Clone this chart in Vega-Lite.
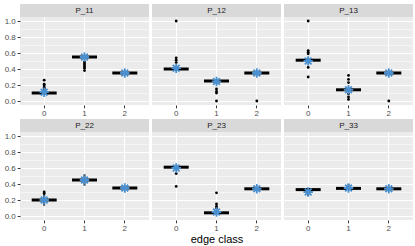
{
  "$schema": "https://vega.github.io/schema/vega-lite/v6.json",
  "padding": {"left": 4, "top": 4, "right": 2, "bottom": 0},
  "datasets": {
    "panels": [{"panel": "P_11"}, {"panel": "P_12"}, {"panel": "P_13"}, {"panel": "P_22"}, {"panel": "P_23"}, {"panel": "P_33"}],
    "box": [
      {"panel": "P_11", "cls": "0", "lo": 0.08, "med": 0.10, "hi": 0.12, "mean": 0.11},
      {"panel": "P_11", "cls": "1", "lo": 0.53, "med": 0.55, "hi": 0.57, "mean": 0.55},
      {"panel": "P_11", "cls": "2", "lo": 0.34, "med": 0.35, "hi": 0.36, "mean": 0.35},
      {"panel": "P_12", "cls": "0", "lo": 0.38, "med": 0.40, "hi": 0.42, "mean": 0.41},
      {"panel": "P_12", "cls": "1", "lo": 0.23, "med": 0.25, "hi": 0.26, "mean": 0.245},
      {"panel": "P_12", "cls": "2", "lo": 0.34, "med": 0.35, "hi": 0.36, "mean": 0.35},
      {"panel": "P_13", "cls": "0", "lo": 0.48, "med": 0.51, "hi": 0.54, "mean": 0.50},
      {"panel": "P_13", "cls": "1", "lo": 0.12, "med": 0.14, "hi": 0.16, "mean": 0.14},
      {"panel": "P_13", "cls": "2", "lo": 0.34, "med": 0.35, "hi": 0.36, "mean": 0.35},
      {"panel": "P_22", "cls": "0", "lo": 0.13, "med": 0.20, "hi": 0.27, "mean": 0.20},
      {"panel": "P_22", "cls": "1", "lo": 0.38, "med": 0.45, "hi": 0.52, "mean": 0.45},
      {"panel": "P_22", "cls": "2", "lo": 0.34, "med": 0.35, "hi": 0.36, "mean": 0.35},
      {"panel": "P_23", "cls": "0", "lo": 0.58, "med": 0.61, "hi": 0.62, "mean": 0.60},
      {"panel": "P_23", "cls": "1", "lo": 0.03, "med": 0.04, "hi": 0.07, "mean": 0.05},
      {"panel": "P_23", "cls": "2", "lo": 0.33, "med": 0.34, "hi": 0.35, "mean": 0.34},
      {"panel": "P_33", "cls": "0", "lo": 0.25, "med": 0.33, "hi": 0.35, "mean": 0.30},
      {"panel": "P_33", "cls": "1", "lo": 0.33, "med": 0.345, "hi": 0.40, "mean": 0.35},
      {"panel": "P_33", "cls": "2", "lo": 0.33, "med": 0.34, "hi": 0.35, "mean": 0.34}
    ],
    "out": [
      {"panel": "P_11", "cls": "0", "v": 0.15}, {"panel": "P_11", "cls": "0", "v": 0.17}, {"panel": "P_11", "cls": "0", "v": 0.19}, {"panel": "P_11", "cls": "0", "v": 0.21}, {"panel": "P_11", "cls": "0", "v": 0.26},
      {"panel": "P_11", "cls": "1", "v": 0.38}, {"panel": "P_11", "cls": "1", "v": 0.41}, {"panel": "P_11", "cls": "1", "v": 0.43}, {"panel": "P_11", "cls": "1", "v": 0.45}, {"panel": "P_11", "cls": "1", "v": 0.47}, {"panel": "P_11", "cls": "1", "v": 0.49},
      {"panel": "P_12", "cls": "0", "v": 1.0}, {"panel": "P_12", "cls": "0", "v": 0.48}, {"panel": "P_12", "cls": "0", "v": 0.51}, {"panel": "P_12", "cls": "0", "v": 0.54},
      {"panel": "P_12", "cls": "1", "v": 0.10}, {"panel": "P_12", "cls": "1", "v": 0.12}, {"panel": "P_12", "cls": "1", "v": 0.15}, {"panel": "P_12", "cls": "1", "v": 0.0},
      {"panel": "P_12", "cls": "2", "v": 0.0},
      {"panel": "P_13", "cls": "0", "v": 1.0}, {"panel": "P_13", "cls": "0", "v": 0.59}, {"panel": "P_13", "cls": "0", "v": 0.61}, {"panel": "P_13", "cls": "0", "v": 0.63}, {"panel": "P_13", "cls": "0", "v": 0.42}, {"panel": "P_13", "cls": "0", "v": 0.30},
      {"panel": "P_13", "cls": "1", "v": 0.32}, {"panel": "P_13", "cls": "1", "v": 0.27}, {"panel": "P_13", "cls": "1", "v": 0.23}, {"panel": "P_13", "cls": "1", "v": 0.09}, {"panel": "P_13", "cls": "1", "v": 0.05}, {"panel": "P_13", "cls": "1", "v": 0.02},
      {"panel": "P_13", "cls": "2", "v": 0.0},
      {"panel": "P_22", "cls": "0", "v": 0.28}, {"panel": "P_22", "cls": "0", "v": 0.30},
      {"panel": "P_23", "cls": "0", "v": 0.53}, {"panel": "P_23", "cls": "0", "v": 0.37},
      {"panel": "P_23", "cls": "1", "v": 0.29}, {"panel": "P_23", "cls": "1", "v": 0.15}, {"panel": "P_23", "cls": "1", "v": 0.12}, {"panel": "P_23", "cls": "1", "v": 0.10}
    ]
  },
  "columns": 3,
  "spacing": {"row": 1, "column": 3},
  "concat": [
    {"spacing": 0, "vconcat": [
      {"data": {"name": "panels"}, "transform": [{"filter": "datum.panel=='P_11'"}], "width": 129, "height": 13, "view": {"fill": "#D9D9D9", "stroke": null}, "mark": {"type": "text", "fontSize": 8, "color": "#1A1A1A"}, "encoding": {"text": {"field": "panel"}}},
      {"width": 129, "height": 88, "resolve": {"axis": {"y": "independent"}}, "layer": [
        {"data": {"name": "box"}, "transform": [{"filter": "datum.panel=='P_11'"}], "mark": {"type": "rule", "strokeWidth": 1.8, "color": "black"},
         "encoding": {
          "x": {"field": "cls", "type": "nominal", "scale": {"type": "band", "domain": ["0", "1", "2"], "paddingInner": 0, "paddingOuter": 0.1}, "axis": {"title": null, "labelAngle": 0, "grid": true, "gridWidth": 1.1, "bandPosition": 0.5, "labelPadding": 1.5}},
          "y": {"field": "lo", "type": "quantitative", "scale": {"domain": [-0.05, 1.05], "nice": false, "zero": false}, "axis": {"title": null, "values": [0, 0.2, 0.4, 0.6, 0.8, 1.0], "format": ".1f", "labelOverlap": false, "gridWidth": 1.1, "labelPadding": 2}},
          "y2": {"field": "hi"}}},
        {"data": {"name": "box"}, "transform": [{"filter": "datum.panel=='P_11'"}], "mark": {"type": "tick", "thickness": 3, "size": 25, "color": "black", "opacity": 1}, "encoding": {"x": {"field": "cls", "type": "nominal"}, "y": {"field": "med", "type": "quantitative", "axis": {"orient": "right", "title": null, "values": [0.1, 0.3, 0.5, 0.7, 0.9], "labels": false, "ticks": false, "grid": true, "gridWidth": 0.5, "minExtent": 0, "maxExtent": 0, "zindex": 0}}}},
        {"data": {"name": "out"}, "transform": [{"filter": "datum.panel=='P_11'"}], "mark": {"type": "point", "filled": true, "size": 8, "color": "black", "opacity": 1}, "encoding": {"x": {"field": "cls", "type": "nominal"}, "y": {"field": "v", "type": "quantitative", "axis": null}}},
        {"data": {"name": "box"}, "transform": [{"filter": "datum.panel=='P_11'"}], "mark": {"type": "point", "shape": "M-1,0L1,0M0,-1L0,1M-0.71,-0.71L0.71,0.71M-0.71,0.71L0.71,-0.71", "filled": false, "stroke": "#4A90D0", "strokeWidth": 1.8, "size": 90, "opacity": 1}, "encoding": {"x": {"field": "cls", "type": "nominal"}, "y": {"field": "mean", "type": "quantitative", "axis": null}}}
      ]}
    ]},
    {"spacing": 0, "vconcat": [
      {"data": {"name": "panels"}, "transform": [{"filter": "datum.panel=='P_12'"}], "width": 129, "height": 13, "view": {"fill": "#D9D9D9", "stroke": null}, "mark": {"type": "text", "fontSize": 8, "color": "#1A1A1A"}, "encoding": {"text": {"field": "panel"}}},
      {"width": 129, "height": 88, "resolve": {"axis": {"y": "independent"}}, "layer": [
        {"data": {"name": "box"}, "transform": [{"filter": "datum.panel=='P_12'"}], "mark": {"type": "rule", "strokeWidth": 1.8, "color": "black"},
         "encoding": {
          "x": {"field": "cls", "type": "nominal", "scale": {"type": "band", "domain": ["0", "1", "2"], "paddingInner": 0, "paddingOuter": 0.1}, "axis": {"title": null, "labelAngle": 0, "grid": true, "gridWidth": 1.1, "bandPosition": 0.5, "labelPadding": 1.5}},
          "y": {"field": "lo", "type": "quantitative", "scale": {"domain": [-0.05, 1.05], "nice": false, "zero": false}, "axis": {"title": null, "values": [0, 0.2, 0.4, 0.6, 0.8, 1.0], "labels": false, "ticks": false, "gridWidth": 1.1, "minExtent": 0}},
          "y2": {"field": "hi"}}},
        {"data": {"name": "box"}, "transform": [{"filter": "datum.panel=='P_12'"}], "mark": {"type": "tick", "thickness": 3, "size": 25, "color": "black", "opacity": 1}, "encoding": {"x": {"field": "cls", "type": "nominal"}, "y": {"field": "med", "type": "quantitative", "axis": {"orient": "right", "title": null, "values": [0.1, 0.3, 0.5, 0.7, 0.9], "labels": false, "ticks": false, "grid": true, "gridWidth": 0.5, "minExtent": 0, "maxExtent": 0, "zindex": 0}}}},
        {"data": {"name": "out"}, "transform": [{"filter": "datum.panel=='P_12'"}], "mark": {"type": "point", "filled": true, "size": 8, "color": "black", "opacity": 1}, "encoding": {"x": {"field": "cls", "type": "nominal"}, "y": {"field": "v", "type": "quantitative", "axis": null}}},
        {"data": {"name": "box"}, "transform": [{"filter": "datum.panel=='P_12'"}], "mark": {"type": "point", "shape": "M-1,0L1,0M0,-1L0,1M-0.71,-0.71L0.71,0.71M-0.71,0.71L0.71,-0.71", "filled": false, "stroke": "#4A90D0", "strokeWidth": 1.8, "size": 90, "opacity": 1}, "encoding": {"x": {"field": "cls", "type": "nominal"}, "y": {"field": "mean", "type": "quantitative", "axis": null}}}
      ]}
    ]},
    {"spacing": 0, "vconcat": [
      {"data": {"name": "panels"}, "transform": [{"filter": "datum.panel=='P_13'"}], "width": 129, "height": 13, "view": {"fill": "#D9D9D9", "stroke": null}, "mark": {"type": "text", "fontSize": 8, "color": "#1A1A1A"}, "encoding": {"text": {"field": "panel"}}},
      {"width": 129, "height": 88, "resolve": {"axis": {"y": "independent"}}, "layer": [
        {"data": {"name": "box"}, "transform": [{"filter": "datum.panel=='P_13'"}], "mark": {"type": "rule", "strokeWidth": 1.8, "color": "black"},
         "encoding": {
          "x": {"field": "cls", "type": "nominal", "scale": {"type": "band", "domain": ["0", "1", "2"], "paddingInner": 0, "paddingOuter": 0.1}, "axis": {"title": null, "labelAngle": 0, "grid": true, "gridWidth": 1.1, "bandPosition": 0.5, "labelPadding": 1.5}},
          "y": {"field": "lo", "type": "quantitative", "scale": {"domain": [-0.05, 1.05], "nice": false, "zero": false}, "axis": {"title": null, "values": [0, 0.2, 0.4, 0.6, 0.8, 1.0], "labels": false, "ticks": false, "gridWidth": 1.1, "minExtent": 0}},
          "y2": {"field": "hi"}}},
        {"data": {"name": "box"}, "transform": [{"filter": "datum.panel=='P_13'"}], "mark": {"type": "tick", "thickness": 3, "size": 25, "color": "black", "opacity": 1}, "encoding": {"x": {"field": "cls", "type": "nominal"}, "y": {"field": "med", "type": "quantitative", "axis": {"orient": "right", "title": null, "values": [0.1, 0.3, 0.5, 0.7, 0.9], "labels": false, "ticks": false, "grid": true, "gridWidth": 0.5, "minExtent": 0, "maxExtent": 0, "zindex": 0}}}},
        {"data": {"name": "out"}, "transform": [{"filter": "datum.panel=='P_13'"}], "mark": {"type": "point", "filled": true, "size": 8, "color": "black", "opacity": 1}, "encoding": {"x": {"field": "cls", "type": "nominal"}, "y": {"field": "v", "type": "quantitative", "axis": null}}},
        {"data": {"name": "box"}, "transform": [{"filter": "datum.panel=='P_13'"}], "mark": {"type": "point", "shape": "M-1,0L1,0M0,-1L0,1M-0.71,-0.71L0.71,0.71M-0.71,0.71L0.71,-0.71", "filled": false, "stroke": "#4A90D0", "strokeWidth": 1.8, "size": 90, "opacity": 1}, "encoding": {"x": {"field": "cls", "type": "nominal"}, "y": {"field": "mean", "type": "quantitative", "axis": null}}}
      ]}
    ]},
    {"spacing": 0, "vconcat": [
      {"data": {"name": "panels"}, "transform": [{"filter": "datum.panel=='P_22'"}], "width": 129, "height": 13, "view": {"fill": "#D9D9D9", "stroke": null}, "mark": {"type": "text", "fontSize": 8, "color": "#1A1A1A"}, "encoding": {"text": {"field": "panel"}}},
      {"width": 129, "height": 88, "resolve": {"axis": {"y": "independent"}}, "layer": [
        {"data": {"name": "box"}, "transform": [{"filter": "datum.panel=='P_22'"}], "mark": {"type": "rule", "strokeWidth": 1.8, "color": "black"},
         "encoding": {
          "x": {"field": "cls", "type": "nominal", "scale": {"type": "band", "domain": ["0", "1", "2"], "paddingInner": 0, "paddingOuter": 0.1}, "axis": {"title": null, "labelAngle": 0, "grid": true, "gridWidth": 1.1, "bandPosition": 0.5, "labelPadding": 1.5}},
          "y": {"field": "lo", "type": "quantitative", "scale": {"domain": [-0.05, 1.05], "nice": false, "zero": false}, "axis": {"title": null, "values": [0, 0.2, 0.4, 0.6, 0.8, 1.0], "format": ".1f", "labelOverlap": false, "gridWidth": 1.1, "labelPadding": 2}},
          "y2": {"field": "hi"}}},
        {"data": {"name": "box"}, "transform": [{"filter": "datum.panel=='P_22'"}], "mark": {"type": "tick", "thickness": 3, "size": 25, "color": "black", "opacity": 1}, "encoding": {"x": {"field": "cls", "type": "nominal"}, "y": {"field": "med", "type": "quantitative", "axis": {"orient": "right", "title": null, "values": [0.1, 0.3, 0.5, 0.7, 0.9], "labels": false, "ticks": false, "grid": true, "gridWidth": 0.5, "minExtent": 0, "maxExtent": 0, "zindex": 0}}}},
        {"data": {"name": "out"}, "transform": [{"filter": "datum.panel=='P_22'"}], "mark": {"type": "point", "filled": true, "size": 8, "color": "black", "opacity": 1}, "encoding": {"x": {"field": "cls", "type": "nominal"}, "y": {"field": "v", "type": "quantitative", "axis": null}}},
        {"data": {"name": "box"}, "transform": [{"filter": "datum.panel=='P_22'"}], "mark": {"type": "point", "shape": "M-1,0L1,0M0,-1L0,1M-0.71,-0.71L0.71,0.71M-0.71,0.71L0.71,-0.71", "filled": false, "stroke": "#4A90D0", "strokeWidth": 1.8, "size": 90, "opacity": 1}, "encoding": {"x": {"field": "cls", "type": "nominal"}, "y": {"field": "mean", "type": "quantitative", "axis": null}}}
      ]}
    ]},
    {"spacing": 0, "vconcat": [
      {"data": {"name": "panels"}, "transform": [{"filter": "datum.panel=='P_23'"}], "width": 129, "height": 13, "view": {"fill": "#D9D9D9", "stroke": null}, "mark": {"type": "text", "fontSize": 8, "color": "#1A1A1A"}, "encoding": {"text": {"field": "panel"}}},
      {"width": 129, "height": 88, "resolve": {"axis": {"y": "independent"}}, "layer": [
        {"data": {"name": "box"}, "transform": [{"filter": "datum.panel=='P_23'"}], "mark": {"type": "rule", "strokeWidth": 1.8, "color": "black"},
         "encoding": {
          "x": {"field": "cls", "type": "nominal", "scale": {"type": "band", "domain": ["0", "1", "2"], "paddingInner": 0, "paddingOuter": 0.1}, "axis": {"title": "edge class", "titlePadding": 1, "labelAngle": 0, "grid": true, "gridWidth": 1.1, "bandPosition": 0.5, "labelPadding": 1.5}},
          "y": {"field": "lo", "type": "quantitative", "scale": {"domain": [-0.05, 1.05], "nice": false, "zero": false}, "axis": {"title": null, "values": [0, 0.2, 0.4, 0.6, 0.8, 1.0], "labels": false, "ticks": false, "gridWidth": 1.1, "minExtent": 0}},
          "y2": {"field": "hi"}}},
        {"data": {"name": "box"}, "transform": [{"filter": "datum.panel=='P_23'"}], "mark": {"type": "tick", "thickness": 3, "size": 25, "color": "black", "opacity": 1}, "encoding": {"x": {"field": "cls", "type": "nominal"}, "y": {"field": "med", "type": "quantitative", "axis": {"orient": "right", "title": null, "values": [0.1, 0.3, 0.5, 0.7, 0.9], "labels": false, "ticks": false, "grid": true, "gridWidth": 0.5, "minExtent": 0, "maxExtent": 0, "zindex": 0}}}},
        {"data": {"name": "out"}, "transform": [{"filter": "datum.panel=='P_23'"}], "mark": {"type": "point", "filled": true, "size": 8, "color": "black", "opacity": 1}, "encoding": {"x": {"field": "cls", "type": "nominal"}, "y": {"field": "v", "type": "quantitative", "axis": null}}},
        {"data": {"name": "box"}, "transform": [{"filter": "datum.panel=='P_23'"}], "mark": {"type": "point", "shape": "M-1,0L1,0M0,-1L0,1M-0.71,-0.71L0.71,0.71M-0.71,0.71L0.71,-0.71", "filled": false, "stroke": "#4A90D0", "strokeWidth": 1.8, "size": 90, "opacity": 1}, "encoding": {"x": {"field": "cls", "type": "nominal"}, "y": {"field": "mean", "type": "quantitative", "axis": null}}}
      ]}
    ]},
    {"spacing": 0, "vconcat": [
      {"data": {"name": "panels"}, "transform": [{"filter": "datum.panel=='P_33'"}], "width": 129, "height": 13, "view": {"fill": "#D9D9D9", "stroke": null}, "mark": {"type": "text", "fontSize": 8, "color": "#1A1A1A"}, "encoding": {"text": {"field": "panel"}}},
      {"width": 129, "height": 88, "resolve": {"axis": {"y": "independent"}}, "layer": [
        {"data": {"name": "box"}, "transform": [{"filter": "datum.panel=='P_33'"}], "mark": {"type": "rule", "strokeWidth": 1.8, "color": "black"},
         "encoding": {
          "x": {"field": "cls", "type": "nominal", "scale": {"type": "band", "domain": ["0", "1", "2"], "paddingInner": 0, "paddingOuter": 0.1}, "axis": {"title": null, "labelAngle": 0, "grid": true, "gridWidth": 1.1, "bandPosition": 0.5, "labelPadding": 1.5}},
          "y": {"field": "lo", "type": "quantitative", "scale": {"domain": [-0.05, 1.05], "nice": false, "zero": false}, "axis": {"title": null, "values": [0, 0.2, 0.4, 0.6, 0.8, 1.0], "labels": false, "ticks": false, "gridWidth": 1.1, "minExtent": 0}},
          "y2": {"field": "hi"}}},
        {"data": {"name": "box"}, "transform": [{"filter": "datum.panel=='P_33'"}], "mark": {"type": "tick", "thickness": 3, "size": 25, "color": "black", "opacity": 1}, "encoding": {"x": {"field": "cls", "type": "nominal"}, "y": {"field": "med", "type": "quantitative", "axis": {"orient": "right", "title": null, "values": [0.1, 0.3, 0.5, 0.7, 0.9], "labels": false, "ticks": false, "grid": true, "gridWidth": 0.5, "minExtent": 0, "maxExtent": 0, "zindex": 0}}}},
        {"data": {"name": "box"}, "transform": [{"filter": "datum.panel=='P_33'"}], "mark": {"type": "point", "shape": "M-1,0L1,0M0,-1L0,1M-0.71,-0.71L0.71,0.71M-0.71,0.71L0.71,-0.71", "filled": false, "stroke": "#4A90D0", "strokeWidth": 1.8, "size": 90, "opacity": 1}, "encoding": {"x": {"field": "cls", "type": "nominal"}, "y": {"field": "mean", "type": "quantitative", "axis": null}}}
      ]}
    ]}
  ],
  "config": {
    "font": "Liberation Sans",
    "view": {"fill": "#EBEBEB", "stroke": null},
    "axis": {"domain": false, "tickColor": "#333333", "tickSize": 2.75, "labelColor": "#4D4D4D", "labelFontSize": 8, "gridColor": "#FFFFFF", "titleFontWeight": "normal", "titleFontSize": 11, "titleColor": "#000000"}
  }
}
